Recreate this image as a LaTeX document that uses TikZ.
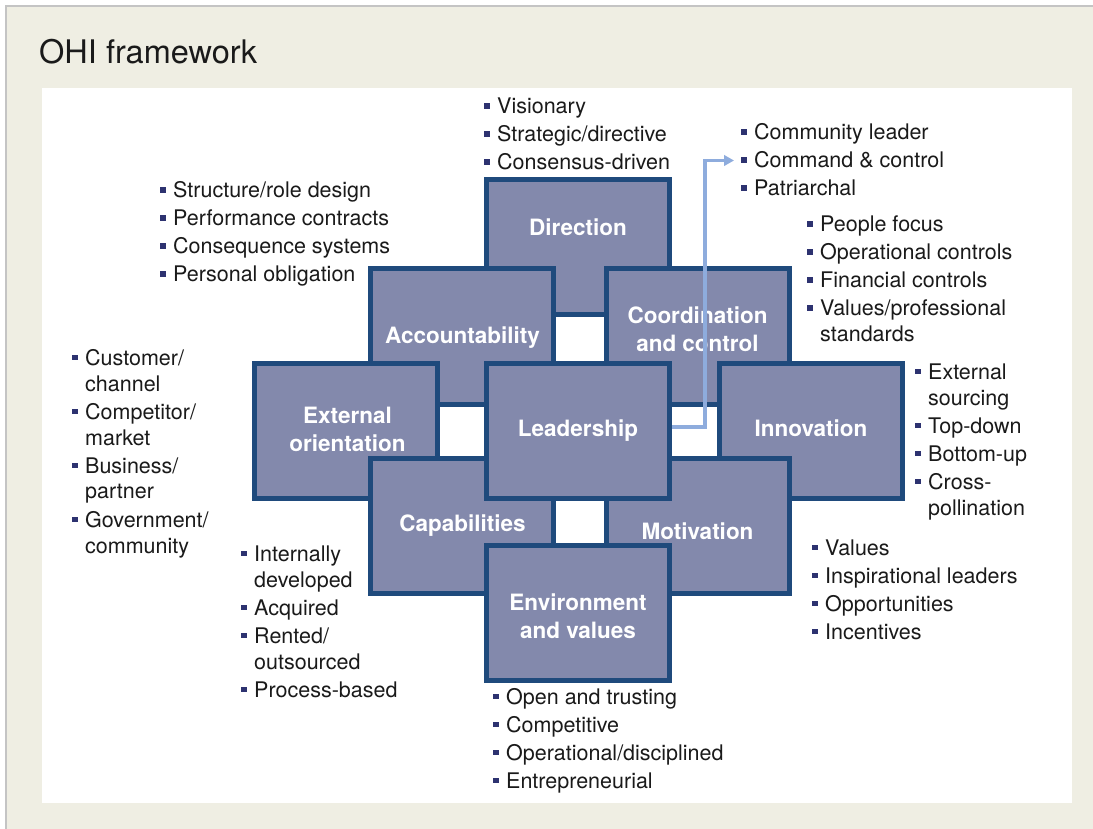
\documentclass[tikz,border=0pt]{standalone}
\usepackage{fontspec}
\setmainfont{TeX Gyre Heros}
\usetikzlibrary{arrows.meta}
\definecolor{bgbeige}{HTML}{EFEEE3}
\definecolor{framegray}{HTML}{C4C4C4}
\definecolor{boxfill}{HTML}{8389AC}
\definecolor{boxline}{HTML}{1F4A7C}
\definecolor{bulcol}{HTML}{2D3270}
\definecolor{arrcol}{HTML}{8EACDD}
\definecolor{txt}{HTML}{1A1A1A}
\newcommand{\bul}{\textcolor{bulcol}{\rule[5pt]{5.5pt}{5.5pt}}}
\begin{document}
\begin{tikzpicture}[x=1pt,y=-1pt,
  ohibox/.style={draw=boxline, fill=boxfill, line width=5pt, minimum width=183pt, minimum height=135pt, inner sep=0pt},
  boxlabel/.style={text=white, font=\fontsize{22.5}{28}\selectfont\bfseries, align=center, inner sep=0pt},
  blist/.style={anchor=base west, inner sep=0pt, text=txt, font=\fontsize{21.5}{26}\selectfont},
  arr/.style={draw=arrcol, line width=3.6pt, -{Triangle[length=10pt,width=10.5pt]}}]
\useasboundingbox (0,0) rectangle (1093,829);
\fill[white] (0,0) rectangle (1093,829);
\fill[bgbeige] (6,6) rectangle (1093,829);
\draw[framegray, line width=2.5pt] (6,829) -- (6,6) -- (1093,6);
\fill[white] (42,88) rectangle (1072,803);
\node[anchor=base west, inner sep=0pt, font=\fontsize{32.5}{38}\selectfont, text=txt] (title) at (39,64) {OHI framework};

% boxes (back to front)
\node[ohibox] (dir) at (578,247) {};
\node[boxlabel] (dirL) at (578,227) {Direction};
\node[ohibox] (acc) at (461.5,336.5) {};
\node[boxlabel] (accL) at (462.5,337.5) {Accountability};
\node[ohibox] (coord) at (697.5,336.5) {};
\node[boxlabel] (coordL) at (697.5,329) {Coordination\\and control};
\node[ohibox] (ext) at (346,430.5) {};
\node[boxlabel] (extL) at (347.5,429.5) {External\\orientation};
\node[ohibox] (inn) at (811,430.5) {};
\node[boxlabel] (innL) at (811,428) {Innovation};
\node[ohibox] (cap) at (461.5,525.5) {};
\node[boxlabel] (capL) at (462.5,525.5) {Capabilities};
\node[ohibox] (mot) at (697.5,525.5) {};
\node[boxlabel] (motL) at (697.5,531) {Motivation};
\node[ohibox] (lead) at (578,430.5) {};
\node[boxlabel] (leadL) at (578,430.5) {Leadership};
\node[ohibox] (env) at (578,612.5) {};
\node[boxlabel] (envL) at (578,616) {Environment\\and values};

% bullet lists
\node[blist] (dirB) at (484,114) {\begin{tabular}[t]{@{}l@{\hspace{7.5pt}}l@{}}
\bul & Visionary\\[2pt]
\bul & Strategic/directive\\[2pt]
\bul & Consensus-driven
\end{tabular}};
\node[blist] (leadB) at (741,140) {\begin{tabular}[t]{@{}l@{\hspace{7.5pt}}l@{}}
\bul & Community leader\\[2pt]
\bul & Command \& control\\[2pt]
\bul & Patriarchal
\end{tabular}};
\node[blist] (coordB) at (807,232) {\begin{tabular}[t]{@{}l@{\hspace{7.5pt}}l@{}}
\bul & People focus\\[2pt]
\bul & Operational controls\\[2pt]
\bul & Financial controls\\[2pt]
\bul & Values/professional\\
 & standards
\end{tabular}};
\node[blist] (accB) at (160,198) {\begin{tabular}[t]{@{}l@{\hspace{7.5pt}}l@{}}
\bul & Structure/role design\\[2pt]
\bul & Performance contracts\\[2pt]
\bul & Consequence systems\\[2pt]
\bul & Personal obligation
\end{tabular}};
\node[blist] (extB) at (72,365) {\begin{tabular}[t]{@{}l@{\hspace{7.5pt}}l@{}}
\bul & Customer/\\
 & channel\\[2pt]
\bul & Competitor/\\
 & market\\[2pt]
\bul & Business/\\
 & partner\\[2pt]
\bul & Government/\\
 & community
\end{tabular}};
\node[blist] (innB) at (915,379) {\begin{tabular}[t]{@{}l@{\hspace{7.5pt}}l@{}}
\bul & External\\
 & sourcing\\[2pt]
\bul & Top-down\\[2pt]
\bul & Bottom-up\\[2pt]
\bul & Cross-\\
 & pollination
\end{tabular}};
\node[blist] (capB) at (241,561) {\begin{tabular}[t]{@{}l@{\hspace{7.5pt}}l@{}}
\bul & Internally\\
 & developed\\[2pt]
\bul & Acquired\\[2pt]
\bul & Rented/\\
 & outsourced\\[2pt]
\bul & Process-based
\end{tabular}};
\node[blist] (motB) at (812,555) {\begin{tabular}[t]{@{}l@{\hspace{7.5pt}}l@{}}
\bul & Values\\[2pt]
\bul & Inspirational leaders\\[2pt]
\bul & Opportunities\\[2pt]
\bul & Incentives
\end{tabular}};
\node[blist] (envB) at (493,704) {\begin{tabular}[t]{@{}l@{\hspace{7.5pt}}l@{}}
\bul & Open and trusting\\[2pt]
\bul & Competitive\\[2pt]
\bul & Operational/disciplined\\[2pt]
\bul & Entrepreneurial
\end{tabular}};

% connector
\coordinate (arrtip) at (734,160.5);
\draw[arr] ([yshift=3.5pt]lead.east) -- ++(33,0) |- (arrtip);
\end{tikzpicture}
\end{document}
